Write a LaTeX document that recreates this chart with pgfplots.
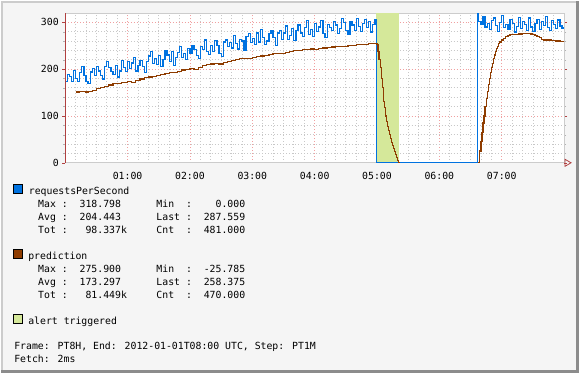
\documentclass[border=0pt]{standalone}
\usepackage{fontspec}
\setmainfont{DejaVu Sans Mono}
\usepackage{pgfplots}
\pgfplotsset{compat=1.18}
\definecolor{bgc}{HTML}{F5F5F5}
\definecolor{blue1}{HTML}{0072E0}
\definecolor{brown1}{HTML}{8E3C00}
\definecolor{alertc}{HTML}{D5E89A}
\definecolor{majgrid}{HTML}{F0A0A0}
\definecolor{mingrid}{HTML}{C8C8C8}
\definecolor{axred}{HTML}{B04040}
\begin{document}
\begin{tikzpicture}[x=1bp,y=1bp,font=\fontsize{9.9}{12}\selectfont]
\fill[bgc] (0,0) rectangle (580,373);
\draw[line width=2bp,black!20] (1,0) -- (1,372) -- (580,372);
\draw[line width=3bp,black!45] (578.5,373) -- (578.5,1.5) -- (0,1.5);
\begin{axis}[name=ax,
  at={(64bp,211bp)}, anchor=south west, scale only axis,
  width=501bp, height=150bp,
  xmin=0, xmax=480, ymin=0, ymax=318.8,
  axis background/.style={fill=white},
  axis line style={draw=black!20, line width=0.8bp},
  xtick={60,120,180,240,300,360,420},
  xticklabels={01:00,02:00,03:00,04:00,05:00,06:00,07:00},
  minor xtick={10,20,30,40,50,70,80,90,100,110,130,140,150,160,170,190,200,210,220,230,250,260,270,280,290,310,320,330,340,350,370,380,390,400,410,430,440,450,460,470},
  ytick={0,100,200,300},
  minor ytick={20,40,60,80,120,140,160,180,220,240,260,280},
  grid=both,
  major grid style={majgrid, line width=0.8bp, dash pattern=on 1bp off 2bp},
  minor grid style={mingrid, line width=0.8bp, dash pattern=on 1bp off 2bp},
  x tick style={draw=none},
  major y tick style={axred},
  minor y tick style={black!30},
  tick align=outside,
  major tick length=3bp, minor tick length=2bp,
  /pgf/number format/assume math mode=true,
  xticklabel style={font=\fontsize{9.9}{12}\selectfont, yshift=-3bp},
  yticklabel style={font=\fontsize{9.9}{12}\selectfont},
  clip=true,
]
% alert triggered span
\addplot[fill=alertc, draw=none] coordinates {(299.5,318.8) (321,318.8)} \closedcycle;
% requestsPerSecond
\addplot[const plot, blue1, line width=1.2bp] coordinates {
(0,174)(2,189)(4,184)(6,173)(8,197)(10,180)(12,173)(14,192)(16,205)(18,186)(20,174)(22,169)(24,194)(26,201)(28,186)(30,205)(32,196)(34,186)(36,179)(38,205)(40,217)(42,203)(44,195)(46,188)(48,207)(50,183)(52,196)(54,218)(56,204)(58,195)
(60,216)(62,202)(64,213)(66,225)(68,196)(70,208)(72,219)(74,205)(76,192)(78,217)(80,228)(82,238)(84,212)(86,222)(88,209)(90,229)(92,206)(94,221)(96,239)(98,230)(100,217)(102,238)(104,208)(106,225)(108,236)(110,249)(112,225)(114,234)(116,221)(118,244)
(120,233)(122,250)(124,242)(126,229)(128,222)(130,248)(132,241)(134,262)(136,238)(138,232)(140,250)(142,238)(144,261)(146,250)(148,234)(150,227)(152,258)(154,262)(156,248)(158,257)(160,245)(162,271)(164,254)(166,243)(168,264)(170,260)(172,240)(174,269)(176,276)(178,256)
(180,266)(182,253)(184,277)(186,258)(188,285)(190,267)(192,252)(194,260)(196,276)(198,283)(200,267)(202,250)(204,277)(206,283)(208,264)(210,277)(212,292)(214,263)(216,271)(218,286)(220,261)(222,283)(224,294)(226,277)(228,269)(230,288)(232,304)(234,274)(236,284)(238,270)
(240,297)(242,280)(244,290)(246,303)(248,276)(250,268)(252,295)(254,289)(256,282)(258,302)(260,294)(262,276)(264,286)(266,308)(268,299)(270,283)(272,273)(274,302)(276,294)(278,282)(280,308)(282,291)(284,280)(286,298)(288,306)(290,289)(292,302)(294,279)(296,296)(298,305)
(299.5,0)(396.5,318)
(398,302)(400,295)(402,312)(404,290)(406,298)(408,284)(410,304)(412,309)(414,293)(416,281)(418,300)(420,314)(422,288)(424,296)(426,285)(428,306)(430,298)(432,279)(434,291)(436,310)(438,286)(440,302)(442,295)(444,283)(446,309)(448,290)(450,280)(452,297)(454,306)(456,285)(458,301)(460,293)(462,312)(464,288)(466,282)(468,303)(470,296)(472,287)(474,305)(476,292)(478,287.559)(480,287.559)
};
% prediction
\addplot[const plot, brown1, line width=1.2bp] coordinates {
(10,151)(14,152)(18,152)(20,151)(22,153)(26,155)(30,158)(34,160)(38,163)(42,166)(46,169)(50,170)(54,171)(58,172)(60,173)(64,172)(68,176)(72,179)(76,182)(80,183)(84,185)(88,187)(92,189)(96,191)(100,193)(104,192)(108,195)(112,198)(116,200)(120,201)(124,200)(128,203)(132,207)(136,209)(140,211)(144,212)(148,211)(152,214)(156,217)(160,218)(164,220)(168,222)(172,222)(176,223)(180,225)(184,227)(188,228)(192,229)(196,232)(200,234)(204,233)(208,234)(212,236)(216,238)(220,239)(224,239)(228,241)(232,242)(236,243)(240,242)(244,244)(248,245)(252,246)(256,247)(260,248)(264,249)(268,249)(272,250)(276,251)(280,252)(284,253)(288,253)(292,254)(296,255)(299,254)
(300,253)(301,238)(302,220)(303,203)(304,180)(305,160)(306,130)(307,118)(308,100)(309,88)(310,78)(311,69)(312,60)(313,52)(314,44)(315,37)(316,30)(317,24)(318,17)(319,11)(320,5)(321,0)
(322,-12)(330,-25.785)(360,-20)(390,-12)(397,-4)
(398,0)(399,25)(400,45)(401,65)(402,85)(403,100)(404,120)(405,137)(406,152)(407,167)(408,180)(409,192)(410,203)(411,212)(412,222)(413,230)(414,238)(415,244)(416,249)(417,254)(418,258)(420,262)(422,266)(424,269)(426,271)(428,273)(432,274)(436,275)(440,275.5)(444,275.9)(448,275)(450,273)(452,271)(454,269)(456,267)(458,264)(460,262)(464,262)(468,261)(472,260)(476,259)(480,258.375)
};
\draw[axred, line width=0.8bp] (rel axis cs:0,0) -- (rel axis cs:0,1);
\end{axis}
\draw[axred, line width=0.8bp] ([xshift=1bp,yshift=-3.5bp]ax.south east) -- ++(6,3.5) -- ++(-6,3.5) -- cycle;
% legend
\fill[blue1, draw=black, line width=0.7bp] (12,180) rectangle (21,189);
\node[anchor=base west, inner sep=0] at (27.3,179) {requestsPerSecond};
\node[anchor=base west, inner sep=0] at (36.7,166) {Max~:~~318.798~~~~~~Min~~:~~~~0.000};
\node[anchor=base west, inner sep=0] at (36.7,153) {Avg~:~~204.443~~~~~~Last~:~~287.559};
\node[anchor=base west, inner sep=0] at (36.7,140) {Tot~:~~~98.337k~~~~~Cnt~~:~~481.000};
\fill[brown1, draw=black, line width=0.7bp] (12,115) rectangle (21,124);
\node[anchor=base west, inner sep=0] at (26.7,114) {prediction};
\node[anchor=base west, inner sep=0] at (36.7,101) {Max~:~~275.900~~~~~~Min~~:~~-25.785};
\node[anchor=base west, inner sep=0] at (36.7,88) {Avg~:~~173.297~~~~~~Last~:~~258.375};
\node[anchor=base west, inner sep=0] at (36.7,75) {Tot~:~~~81.449k~~~~~Cnt~~:~~470.000};
\fill[alertc, draw=black, line width=0.7bp] (12,50) rectangle (21,59);
\node[anchor=base west, inner sep=0] at (26.7,49) {alert triggered};
\node[anchor=base west, inner sep=0] at (12.7,23) {Frame: PT8H, End: 2012-01-01T08:00 UTC, Step: PT1M};
\node[anchor=base west, inner sep=0] at (12.7,10) {Fetch: 2ms};
\end{tikzpicture}
\end{document}
